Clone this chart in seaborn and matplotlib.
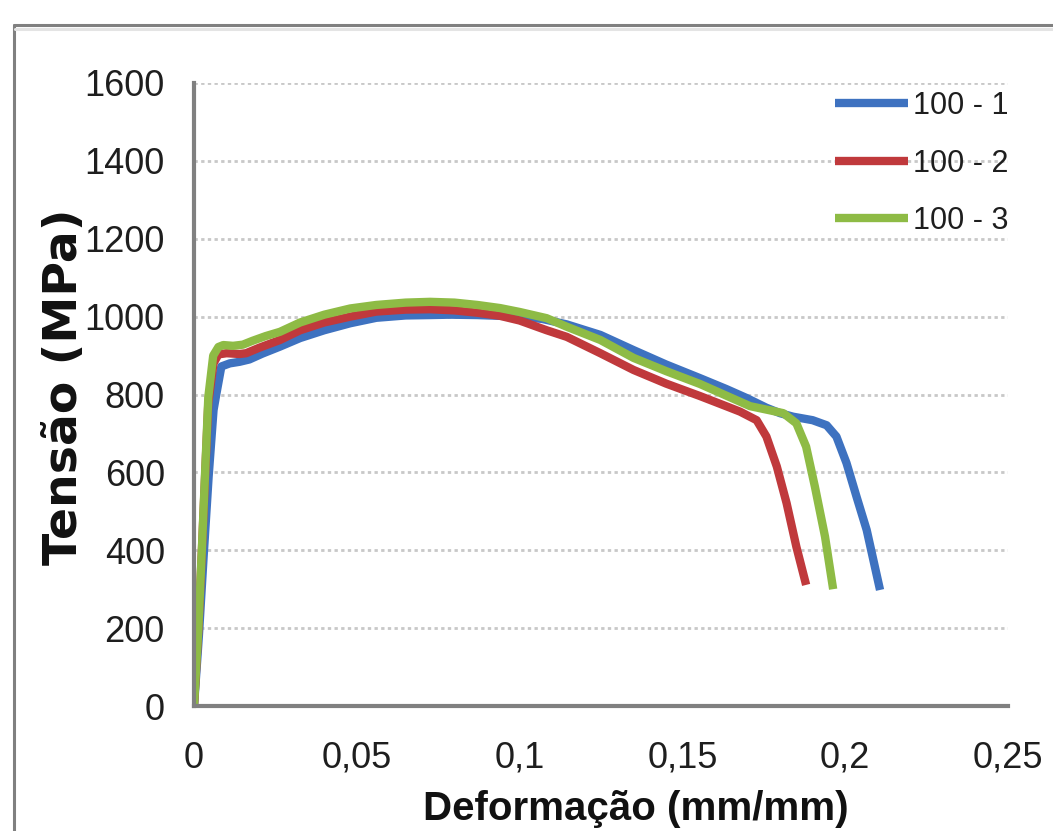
import numpy as np
import pandas as pd
import matplotlib
matplotlib.use("Agg")
import matplotlib.pyplot as plt
import seaborn as sns
from matplotlib.lines import Line2D

# strain (mm/mm) and stress (MPa)
strain_1 = [0, 0.0015, 0.003, 0.0045, 0.006, 0.0069, 0.0084, 0.011, 0.014, 0.017, 0.021,
            0.0264, 0.0326, 0.04, 0.048, 0.056, 0.065, 0.0725, 0.0786, 0.087, 0.094, 0.1,
            0.107, 0.1145, 0.1248, 0.135, 0.145, 0.1554, 0.1635, 0.1697, 0.1758, 0.18,
            0.184, 0.19, 0.1943, 0.1973, 0.2004, 0.2035, 0.2066, 0.2107]
stress_1 = [0, 180, 390, 590, 760, 803, 872, 880, 884, 890, 905,
            923, 945, 965, 983, 997, 1003, 1004, 1005, 1004, 1002, 1000,
            994, 980, 953, 914, 877, 842, 814, 791, 766, 752,
            743, 734, 721, 692, 624, 537, 452, 298]

strain_2 = [0, 0.0013, 0.0024, 0.0034, 0.0044, 0.006, 0.0075, 0.01, 0.014, 0.016, 0.02,
            0.0264, 0.0326, 0.04, 0.048, 0.056, 0.065, 0.0725, 0.08, 0.087, 0.094, 0.1,
            0.1083, 0.1145, 0.1248, 0.135, 0.145, 0.1554, 0.1625, 0.1677, 0.1728, 0.1758,
            0.179, 0.182, 0.185, 0.188]
stress_2 = [0, 190, 395, 590, 780, 880, 903, 906, 904, 906, 920,
            940, 965, 985, 1000, 1013, 1018, 1019, 1016, 1010, 1002, 990,
            965, 948, 906, 863, 828, 796, 773, 756, 734, 692,
            615, 521, 409, 311]

strain_3 = [0, 0.0013, 0.0024, 0.0034, 0.0044, 0.0059, 0.0075, 0.009, 0.012, 0.015, 0.018,
            0.022, 0.0264, 0.0326, 0.04, 0.048, 0.056, 0.065, 0.0725, 0.08, 0.087, 0.094,
            0.1, 0.1083, 0.1145, 0.1248, 0.135, 0.145, 0.1554, 0.1635, 0.1708, 0.1765,
            0.181, 0.185, 0.188, 0.1907, 0.1938, 0.1963]
stress_3 = [0, 195, 400, 598, 794, 900, 922, 927, 925, 928, 938,
            950, 961, 985, 1005, 1021, 1030, 1036, 1038, 1036, 1030, 1022,
            1012, 996, 974, 940, 894, 860, 827, 797, 770, 760,
            752, 726, 666, 563, 435, 300]

samples = ["100 - 1", "100 - 2", "100 - 3"]
colors = ["#3E72C0", "#C0393C", "#8EBB45"]
x_ticks = [0, 0.05, 0.1, 0.15, 0.2, 0.25]
x_tick_labels = ["0", "0,05", "0,1", "0,15", "0,2", "0,25"]
y_ticks = [0, 200, 400, 600, 800, 1000, 1200, 1400, 1600]

df = pd.concat([
    pd.DataFrame({"strain": strain_1, "stress": stress_1, "sample": samples[0]}),
    pd.DataFrame({"strain": strain_2, "stress": stress_2, "sample": samples[1]}),
    pd.DataFrame({"strain": strain_3, "stress": stress_3, "sample": samples[2]}),
], ignore_index=True)

sns.set_style("white")
plt.rcParams["font.family"] = ["Liberation Sans", "DejaVu Sans"]

fig = plt.figure(figsize=(10.53, 8.31), dpi=100)
ax = fig.add_axes([194 / 1053, 1 - 706 / 831, 814 / 1053, 623 / 831])

sns.lineplot(data=df, x="strain", y="stress", hue="sample", palette=colors,
             sort=False, estimator=None, linewidth=6, ax=ax)
for line in ax.get_lines():
    line.set_solid_joinstyle("round")
    line.set_solid_capstyle("butt")

ax.set_xlim(0, 0.25)
ax.set_ylim(0, 1600)
ax.set_xticks(x_ticks)
ax.set_xticklabels(x_tick_labels)
ax.set_yticks(y_ticks)
ax.tick_params(axis="both", length=0, labelsize=26, labelcolor="#1e1e1e")
ax.tick_params(axis="y", pad=21)
ax.tick_params(axis="x", pad=25)

ax.yaxis.grid(True, color="#c8c8c8", linestyle=(0, (1.2, 1.2)), linewidth=2)
ax.set_axisbelow(True)
for side in ["top", "right"]:
    ax.spines[side].set_visible(False)
for side in ["left", "bottom"]:
    ax.spines[side].set_color("#808080")
    ax.spines[side].set_linewidth(3)

ax.set_xlabel("Deformação (mm/mm)", fontsize=29, fontweight="bold",
              va="baseline", color="#111111")
ax.xaxis.set_label_coords(0.543, -0.183)
ax.set_ylabel("Tensão (MPa)", fontsize=34, fontweight="bold",
              family="DejaVu Sans", va="baseline", color="#111111")
ax.yaxis.set_label_coords(-0.1438, 0.513)

leg = ax.legend(loc="upper left", bbox_to_anchor=(835 / 1053, 1 - 91 / 831),
                bbox_transform=fig.transFigure, frameon=False, fontsize=22,
                handlelength=2.4, handletextpad=0.15, labelspacing=0.9,
                borderpad=0, borderaxespad=0)
for line in leg.get_lines():
    line.set_linewidth(6)
for t in leg.get_texts():
    t.set_color("#1e1e1e")

# outer frame of the original image
fig.add_artist(Line2D([13.5 / 1053, 13.5 / 1053], [0, 1 - 25 / 831],
                      transform=fig.transFigure, color="#808080", linewidth=2.2))
fig.add_artist(Line2D([13.5 / 1053, 1], [1 - 25 / 831, 1 - 25 / 831],
                      transform=fig.transFigure, color="#808080", linewidth=2.2))
fig.add_artist(Line2D([15 / 1053, 1], [1 - 29 / 831, 1 - 29 / 831],
                      transform=fig.transFigure, color="#e4e4e4", linewidth=2.2))

fig.savefig("out.png", dpi=100)
